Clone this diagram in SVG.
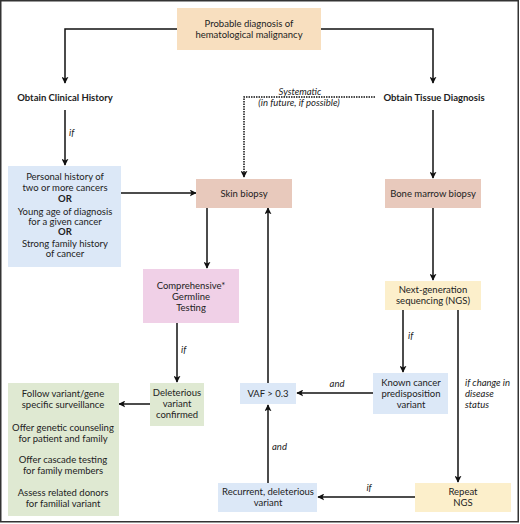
<svg xmlns="http://www.w3.org/2000/svg" width="520" height="524" viewBox="0 0 520 524">
<defs>
<style>
text{font-family:Lato,"Liberation Sans",sans-serif;font-size:9.5px;fill:#222;text-anchor:middle}
.b{font-weight:bold}
.i{font-style:italic}
.l{text-anchor:start}
.ln{fill:none;stroke:#111;stroke-width:1.5}
.dot{fill:none;stroke:#111;stroke-width:1.5;stroke-dasharray:1.5 1}
</style>
<marker id="ah" viewBox="0 0 10 10" refX="9" refY="5" markerWidth="7" markerHeight="7" markerUnits="userSpaceOnUse" orient="auto">
<path d="M0,0 L10,5 L0,10 L2.5,5 z" fill="#111"/>
</marker>
</defs>
<rect x="0.75" y="0.75" width="517.5" height="521" fill="#fff" stroke="#333" stroke-width="1.5"/>

<g id="connectors">
<path class="ln" d="M177,29 H65 V83" marker-end="url(#ah)"/>
<path class="ln" d="M321,29 H433 V83" marker-end="url(#ah)"/>
<path class="dot" d="M375,97 H244 V177" marker-end="url(#ah)"/>
<path class="ln" d="M65,110 V165" marker-end="url(#ah)"/>
<path class="ln" d="M121,193 H196" marker-end="url(#ah)"/>
<path class="ln" d="M433,110 V178" marker-end="url(#ah)"/>
<path class="ln" d="M433,208 V280" marker-end="url(#ah)"/>
<path class="ln" d="M207,208 V268" marker-end="url(#ah)"/>
<path class="ln" d="M177,323 V382" marker-end="url(#ah)"/>
<path class="ln" d="M150,404 H119" marker-end="url(#ah)"/>
<path class="ln" d="M403,310 V372" marker-end="url(#ah)"/>
<path class="ln" d="M458,310 V482" marker-end="url(#ah)"/>
<path class="ln" d="M373,393 H297" marker-end="url(#ah)"/>
<path class="ln" d="M268,383 V208" marker-end="url(#ah)"/>
<path class="ln" d="M415,497 H318" marker-end="url(#ah)"/>
<path class="ln" d="M268,483 V405" marker-end="url(#ah)"/>
<text class="i" x="300" y="95">Systematic</text>
<text class="i" x="299" y="106">(in future, if possible)</text>
<text class="i l" x="69" y="136">if</text>
<text class="i l" x="181" y="353">if</text>
<text class="i l" x="408" y="339">if</text>
<text class="i" x="337" y="387">and</text>
<text class="i l" x="465" y="386">if change in</text>
<text class="i l" x="465" y="397">disease</text>
<text class="i l" x="465" y="408">status</text>
<text class="i" x="369" y="491">if</text>
<text class="i l" x="272" y="450">and</text>
</g>

<g id="probable">
<rect x="177" y="8" width="144" height="42" fill="#f8dfbf"/>
<text x="249" y="27">Probable diagnosis of</text>
<text x="249" y="38">hematological malignancy</text>
</g>
<g id="clinical">
<text class="b" x="65" y="101">Obtain Clinical History</text>
</g>
<g id="tissue">
<text class="b" x="434" y="101">Obtain Tissue Diagnosis</text>
</g>
<g id="criteria">
<rect x="8" y="166" width="113" height="101" fill="#dce8f7"/>
<text x="65" y="180">Personal history of</text>
<text x="65" y="191">two or more cancers</text>
<text class="b" x="65" y="202">OR</text>
<text x="65" y="215">Young age of diagnosis</text>
<text x="65" y="225">for a given cancer</text>
<text class="b" x="65" y="235">OR</text>
<text x="65" y="247">Strong family history</text>
<text x="65" y="257">of cancer</text>
</g>
<g id="skin">
<rect x="196" y="179" width="96" height="29" fill="#e8c9bc"/>
<text x="244" y="196.5">Skin biopsy</text>
</g>
<g id="bonemarrow">
<rect x="385" y="179" width="96" height="29" fill="#e8c9bc"/>
<text x="433" y="196.5">Bone marrow biopsy</text>
</g>
<g id="germline">
<rect x="143" y="269" width="96" height="54" fill="#f0d0e7"/>
<text x="191" y="289">Comprehensive*</text>
<text x="191" y="300">Germline</text>
<text x="191" y="311">Testing</text>
</g>
<g id="ngs">
<rect x="385" y="281" width="96" height="29" fill="#fcefcb"/>
<text x="433" y="292.5">Next-generation</text>
<text x="433" y="303.5">sequencing (NGS)</text>
</g>
<g id="deleterious">
<rect x="150" y="383" width="54" height="43" fill="#dfe9d2"/>
<text x="177" y="396">Deleterious</text>
<text x="177" y="407">variant</text>
<text x="177" y="418">confirmed</text>
</g>
<g id="actions">
<rect x="8" y="383" width="111" height="133" fill="#dfe9d2"/>
<text x="63" y="397">Follow variant/gene</text>
<text x="63" y="408">specific surveillance</text>
<text x="63" y="431">Offer genetic counseling</text>
<text x="63" y="442">for patient and family</text>
<text x="63" y="463">Offer cascade testing</text>
<text x="63" y="474">for family members</text>
<text x="63" y="496">Assess related donors</text>
<text x="63" y="507">for familial variant</text>
</g>
<g id="vaf">
<rect x="240" y="383" width="56" height="21" fill="#dce8f7"/>
<text x="268" y="397">VAF &gt; 0.3</text>
</g>
<g id="known">
<rect x="373" y="373" width="75" height="41" fill="#dce8f7"/>
<text x="411" y="386">Known cancer</text>
<text x="411" y="397">predisposition</text>
<text x="411" y="408">variant</text>
</g>
<g id="repeat">
<rect x="415" y="483" width="96" height="29" fill="#fcefcb"/>
<text x="463" y="495">Repeat</text>
<text x="463" y="506">NGS</text>
</g>
<g id="recurrent">
<rect x="218" y="483" width="99" height="29" fill="#dce8f7"/>
<text x="268" y="495">Recurrent, deleterious</text>
<text x="268" y="506">variant</text>
</g>
</svg>
